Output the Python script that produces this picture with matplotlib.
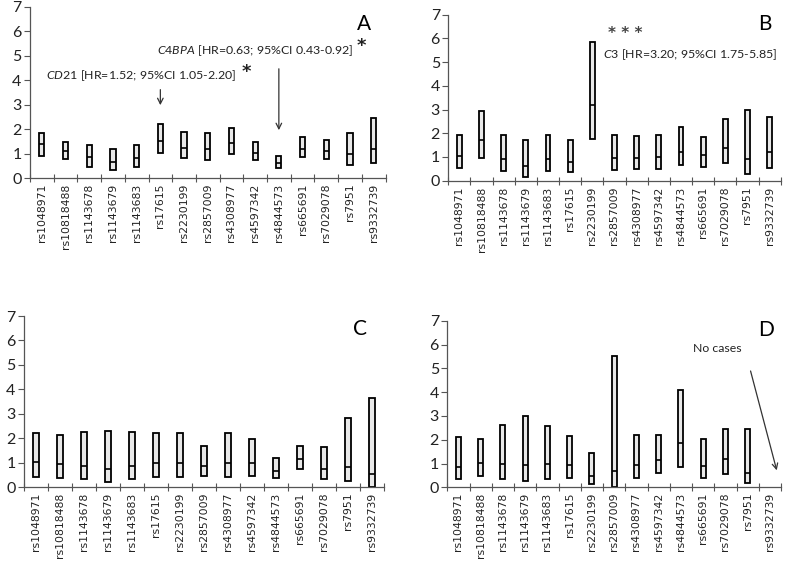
import matplotlib
matplotlib.use("Agg")
import matplotlib.pyplot as plt
import numpy as np

plt.rcParams["mathtext.fontset"] = "custom"
plt.rcParams["mathtext.it"] = "Lato:italic"
plt.rcParams["mathtext.rm"] = "Lato"

snps = ["rs1048971", "rs10818488", "rs1143678", "rs1143679", "rs1143683",
        "rs17615", "rs2230199", "rs2857009", "rs4308977", "rs4597342",
        "rs4844573", "rs665691", "rs7029078", "rs7951", "rs9332739"]

# Panel A
a_hr = [1.38, 1.11, 0.85, 0.65, 0.84, 1.52, 1.24, 1.19, 1.46, 1.05, 0.63, 1.19, 1.12, 1.01, 1.20]
a_lo = [0.92, 0.80, 0.47, 0.34, 0.47, 1.05, 0.81, 0.73, 0.99, 0.74, 0.43, 0.85, 0.78, 0.54, 0.61]
a_hi = [1.85, 1.50, 1.35, 1.18, 1.35, 2.20, 1.89, 1.85, 2.07, 1.50, 0.92, 1.69, 1.58, 1.85, 2.46]
# Panel B
b_hr = [1.04, 1.70, 0.92, 0.61, 0.92, 0.80, 3.20, 0.94, 0.96, 0.99, 1.21, 1.07, 1.39, 0.92, 1.20]
b_lo = [0.54, 0.94, 0.42, 0.17, 0.42, 0.38, 1.75, 0.46, 0.51, 0.49, 0.66, 0.58, 0.73, 0.28, 0.54]
b_hi = [1.92, 2.96, 1.94, 1.72, 1.94, 1.70, 5.85, 1.94, 1.87, 1.92, 2.28, 1.85, 2.62, 2.99, 2.69]
# Panel C
c_hr = [1.02, 0.97, 0.87, 0.74, 0.87, 1.00, 1.00, 0.87, 1.00, 1.00, 0.65, 1.17, 0.76, 0.84, 0.53]
c_lo = [0.44, 0.40, 0.33, 0.22, 0.33, 0.41, 0.41, 0.48, 0.41, 0.48, 0.37, 0.76, 0.33, 0.26, 0.03]
c_hi = [2.23, 2.12, 2.28, 2.30, 2.28, 2.21, 2.23, 1.68, 2.23, 1.99, 1.20, 1.70, 1.63, 2.85, 3.66]
# Panel D (no cases for rs9332739)
d_hr = [0.87, 1.02, 0.99, 0.94, 0.99, 0.94, 0.46, 0.67, 0.94, 1.16, 1.85, 0.90, 1.19, 0.62, np.nan]
d_lo = [0.34, 0.48, 0.34, 0.27, 0.34, 0.38, 0.13, 0.03, 0.38, 0.59, 0.85, 0.41, 0.57, 0.17, np.nan]
d_hi = [2.13, 2.04, 2.62, 3.00, 2.59, 2.16, 1.46, 5.52, 2.18, 2.18, 4.08, 2.04, 2.44, 2.44, np.nan]

W, H = 787, 565
fig = plt.figure(figsize=(W / 100, H / 100), dpi=100)

def px_axes(left, right, y0, y7):
    return fig.add_axes([left / W, 1 - y0 / H, (right - left) / W, (y0 - y7) / H])

panels = [
    (px_axes(30, 385.5, 178.3, 6.7), a_hr, a_lo, a_hi),
    (px_axes(448.3, 780.7, 180.7, 14.7), b_hr, b_lo, b_hi),
    (px_axes(24, 384, 487.3, 316), c_hr, c_lo, c_hi),
    (px_axes(447.3, 781, 487.3, 320.7), d_hr, d_lo, d_hi),
]

x = np.arange(len(snps))
for ax, hr, lo, hi in panels:
    hr = np.array(hr, float); lo = np.array(lo, float); hi = np.array(hi, float)
    ok = ~np.isnan(hr)
    ax.bar(x[ok], (hi - lo)[ok], bottom=lo[ok], width=0.22, color="#e8e8e8",
           edgecolor="black", linewidth=1.3, zorder=2)
    ax.hlines(hr[ok], x[ok] - 0.11, x[ok] + 0.11, color="black", linewidth=1.2, zorder=3)
    ax.set_xlim(-0.5, len(snps) - 0.5)
    ax.set_ylim(0, 7)
    ax.set_yticks(range(8))
    ax.set_yticklabels([str(i) for i in range(8)], fontfamily="Lato", fontsize=11.5)
    ax.set_xticks(x)
    ax.set_xticklabels(snps, rotation=90, fontsize=7.8, fontfamily="DejaVu Sans", color="#222222")
    ax.set_xticks(np.arange(-0.5, len(snps)), minor=True)
    ax.tick_params(axis="x", which="major", length=0, pad=4)
    ax.tick_params(axis="x", which="minor", direction="inout", length=6, width=0.8, color="#555555")
    ax.tick_params(axis="y", length=4, width=0.8, color="#555555", pad=2, labelcolor="#222222")
    for s in ("top", "right"):
        ax.spines[s].set_visible(False)
    for s in ("left", "bottom"):
        ax.spines[s].set_color("#555555")
        ax.spines[s].set_linewidth(0.9)
    ax.set_facecolor("none")

axA, axB, axC, axD = [p[0] for p in panels]

txt = dict(fontfamily="Lato", fontsize=8.9, color="#222222")
letter = dict(fontsize=15, fontfamily="Lato", ha="center", va="center")
axA.text(13.6, 6.3, "A", **letter)
axB.text(13.8, 6.6, "B", **letter)
axC.text(13.5, 6.45, "C", **letter)
axD.text(13.85, 6.6, "D", **letter)

star = dict(ha="center", va="center", fontsize=13, fontfamily="DejaVu Sans", fontweight="bold",
            color="#222222")
# Panel A annotations
axA.text(4.2, 4.2, r"$\it{CD21}$" + " [HR=1.52; 95%CI 1.05-2.20]", ha="center", va="center", **txt)
axA.text(8.62, 4.35, "*", **star)
axA.annotate("", xy=(5, 2.87), xytext=(5, 3.73),
             arrowprops=dict(arrowstyle="->", color="#333333", lw=0.9))
axA.text(9.0, 5.2, r"$\it{C4BPA}$" + " [HR=0.63; 95%CI 0.43-0.92]", ha="center", va="center", **txt)
axA.text(13.5, 5.4, "*", **star)
axA.annotate("", xy=(10, 1.85), xytext=(10, 4.58),
             arrowprops=dict(arrowstyle="->", color="#333333", lw=0.9))

# Panel B annotations
axB.text(7.5, 6.2, "* * *", ha="center", va="center", fontsize=11, fontfamily="DejaVu Sans",
         fontweight="bold", color="#444444")
axB.text(6.48, 5.3, r"$\it{C3}$" + " [HR=3.20; 95%CI 1.75-5.85]", ha="left", va="center", **txt)

# Panel D annotation
axD.text(11.65, 5.85, "No cases", ha="center", va="center", fontfamily="Lato", fontsize=8.8,
         color="#222222")
axD.annotate("", xy=(14.34, 0.6), xytext=(13.1, 5.0),
             arrowprops=dict(arrowstyle="->", color="#333333", lw=0.9))

fig.savefig("out.png", dpi=100)
